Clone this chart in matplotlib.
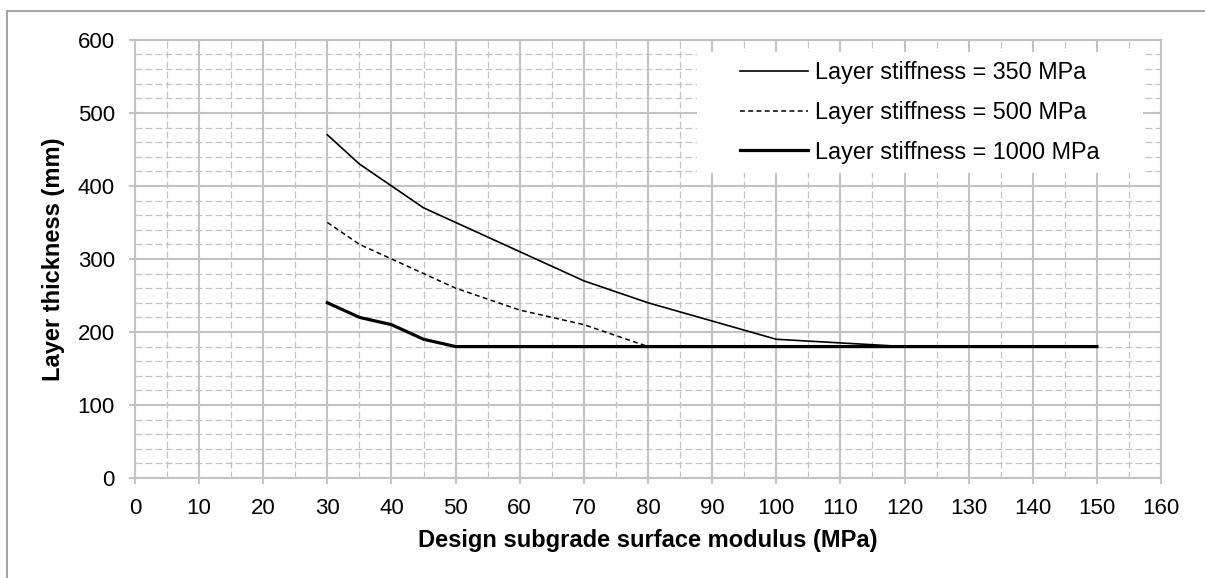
import matplotlib.pyplot as plt
from matplotlib.ticker import MultipleLocator
from matplotlib.patches import Rectangle

plt.rcParams['font.family'] = ['Liberation Sans', 'DejaVu Sans']

# subgrade modulus (MPa) and required layer thickness (mm)
x_350 = [30, 35, 40, 45, 50, 60, 70, 80, 90, 100, 110, 120, 130, 140, 150]
t_350 = [470, 430, 400, 370, 350, 310, 270, 240, 215, 190, 185, 180, 180, 180, 180]

x_500 = [30, 35, 40, 45, 50, 60, 70, 80, 90, 100, 110, 120, 130, 140, 150]
t_500 = [350, 320, 300, 280, 260, 230, 210, 180, 180, 180, 180, 180, 180, 180, 180]

x_1000 = [30, 35, 40, 45, 50, 60, 70, 80, 90, 100, 110, 120, 130, 140, 150]
t_1000 = [240, 220, 210, 190, 180, 180, 180, 180, 180, 180, 180, 180, 180, 180, 180]

labels = ['Layer stiffness = 350 MPa', 'Layer stiffness = 500 MPa',
          'Layer stiffness = 1000 MPa']

grid_c = '#c3c3c3'

fig = plt.figure(figsize=(12.05, 5.78), dpi=100)
# outer frame (left and top edges visible)
fig.add_artist(Rectangle((7 / 1205, -0.05), 1.1, 1.05 - 11 / 578,
                         transform=fig.transFigure, fill=False,
                         edgecolor='#a6a6a6', lw=1.5))
ax = fig.add_axes([0.112, 0.173, 0.8515, 0.758])

ax.plot(x_350, t_350, color='black', lw=1.2, label=labels[0], zorder=3)
ax.plot(x_500, t_500, color='black', lw=1.1, ls=(0, (3.2, 2.2)),
        label=labels[1], zorder=3)
ax.plot(x_1000, t_1000, color='black', lw=2.3, label=labels[2], zorder=4)

ax.set_xlim(0, 160)
ax.set_ylim(0, 600)
ax.xaxis.set_major_locator(MultipleLocator(10))
ax.xaxis.set_minor_locator(MultipleLocator(5))
ax.yaxis.set_major_locator(MultipleLocator(100))
ax.yaxis.set_minor_locator(MultipleLocator(20))

ax.grid(True, which='major', color=grid_c, lw=1.5, ls='-')
ax.grid(True, which='minor', color=grid_c, lw=0.9, ls=(0, (5.5, 2.5)))
ax.set_axisbelow(True)
for s in ax.spines.values():
    s.set_color(grid_c)
    s.set_linewidth(1.5)
ax.tick_params(which='major', length=4.5, width=1.5, color=grid_c,
               labelsize=16, labelcolor='black', pad=10)
ax.tick_params(which='minor', length=0)

ax.set_xlabel('Design subgrade surface modulus (MPa)', fontsize=17,
              fontweight='bold', labelpad=7)
ax.set_ylabel('Layer thickness (mm)', fontsize=17, fontweight='bold',
              labelpad=9)

# white legend panel covering the grid
ax.add_patch(Rectangle((0.548, 0.696), 0.434, 0.277, transform=ax.transAxes,
                       facecolor='white', edgecolor='none', zorder=2))
leg = ax.legend(loc='upper left', bbox_to_anchor=(0.5897, 0.952),
                borderaxespad=0, borderpad=0, fontsize=16.8,
                handlelength=2.92, handletextpad=0.3, labelspacing=0.72,
                frameon=False)
leg.set_zorder(5)

fig.savefig('out.png', dpi=100)
